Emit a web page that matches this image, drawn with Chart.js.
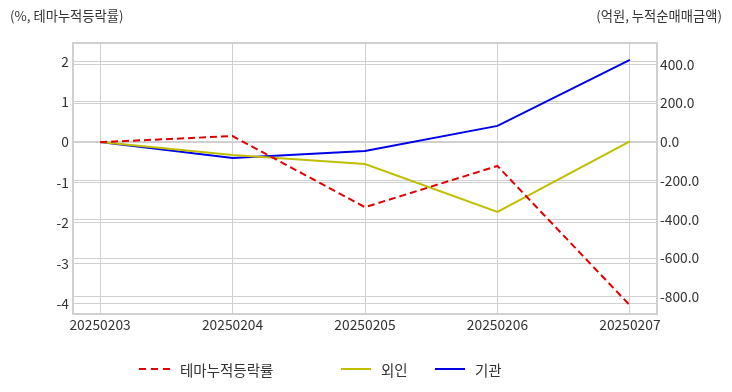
<!DOCTYPE html>
<html><head><meta charset="utf-8">
<script src="https://cdn.jsdelivr.net/npm/chart.js@4/dist/chart.umd.min.js"></script>
<style>
html,body{margin:0;padding:0;background:#fff;}
#wrap{position:relative;width:732px;height:392px;font-family:"Noto Sans CJK KR","Noto Sans",sans-serif;color:#333;}
canvas{position:absolute;left:0;top:0;}
.ttl{position:absolute;top:6px;font-size:13.3px;color:#333;white-space:nowrap;}
.leg{position:absolute;top:358px;height:22px;font-size:14.5px;color:#333;white-space:nowrap;display:flex;align-items:center;}
.leg svg{margin-right:10px;}
</style></head>
<body><div id="wrap">
<canvas id="c" width="732" height="392"></canvas>
<div class="ttl" style="left:10px">(%, 테마누적등락률)</div>
<div class="ttl" style="right:10px">(억원, 누적순매매금액)</div>
<div class="leg" style="left:139px"><svg width="31" height="4"><line x1="0" y1="2" x2="31" y2="2" stroke="#e00000" stroke-width="2" stroke-dasharray="7,5"/></svg>테마누적등락률</div>
<div class="leg" style="left:341px"><svg width="30" height="4"><line x1="0" y1="2" x2="30" y2="2" stroke="#bfbf00" stroke-width="2"/></svg>외인</div>
<div class="leg" style="left:435px"><svg width="30" height="4"><line x1="0" y1="2" x2="30" y2="2" stroke="#0000e6" stroke-width="2"/></svg>기관</div>
</div>
<script>
const categories = ['20250203','20250204','20250205','20250206','20250207'];
const themeReturn = [0, 0.15, -1.61, -0.59, -4.04];
const foreignNet = [0, -67, -114, -362, 3];
const institutionNet = [0, -83, -47, 83, 424];
const leftTicks = [2, 1, 0, -1, -2, -3, -4];
const rightTicks = [400, 200, 0, -200, -400, -600, -800];

const toXY = arr => arr.map((v, i) => ({x: i, y: v}));
const tickFont = {family: '"Noto Sans CJK KR","Noto Sans",sans-serif', size: 13.8};

const borderBox = {
  id: 'borderBox',
  afterDraw(chart) {
    const {ctx, chartArea: a} = chart;
    ctx.save();
    ctx.strokeStyle = '#d0d0d0';
    ctx.lineWidth = 2;
    ctx.strokeRect(a.left - 1, a.top - 1, a.right - a.left + 2, a.bottom - a.top + 2);
    ctx.restore();
  }
};

new Chart(document.getElementById('c'), {
  type: 'line',
  data: {
    datasets: [
      {label: '테마누적등락률', data: toXY(themeReturn), yAxisID: 'yL', borderColor: '#e00000', borderWidth: 2, borderDash: [7, 4], pointRadius: 0, tension: 0},
      {label: '외인', data: toXY(foreignNet), yAxisID: 'yR', borderColor: '#bfbf00', borderWidth: 2, pointRadius: 0, tension: 0},
      {label: '기관', data: toXY(institutionNet), yAxisID: 'yR', borderColor: '#0000e6', borderWidth: 2, pointRadius: 0, tension: 0}
    ]
  },
  options: {
    responsive: false,
    animation: false,
    layout: {padding: {top: 44, bottom: 49, left: 0, right: 0}},
    plugins: {legend: {display: false}, tooltip: {enabled: false}},
    scales: {
      x: {
        type: 'linear', min: -0.197, max: 4.197,
        afterBuildTicks: s => { s.ticks = categories.map((c, i) => ({value: i})); },
        afterFit: s => { s.height = 30; },
        ticks: {callback: (v) => categories[v] ?? '', color: '#333', font: tickFont, padding: 3, maxRotation: 0, autoSkip: false},
        grid: {color: '#d0d0d0', drawTicks: false},
        border: {display: false}
      },
      yL: {
        position: 'left', min: -4.23, max: 2.43,
        afterBuildTicks: s => { s.ticks = leftTicks.map(v => ({value: v})); },
        afterFit: s => { s.width = 74; },
        ticks: {callback: v => String(v), color: '#333', font: tickFont, padding: 5},
        grid: {color: '#d0d0d0', drawTicks: false},
        border: {display: false}
      },
      yR: {
        position: 'right', min: -884, max: 506,
        afterBuildTicks: s => { s.ticks = rightTicks.map(v => ({value: v})); },
        afterFit: s => { s.width = 76; },
        ticks: {callback: v => Number(v).toFixed(1), color: '#333', font: tickFont, padding: 4},
        grid: {color: '#d0d0d0', drawTicks: false},
        border: {display: false}
      }
    }
  },
  plugins: [borderBox]
});
</script>
</body></html>
